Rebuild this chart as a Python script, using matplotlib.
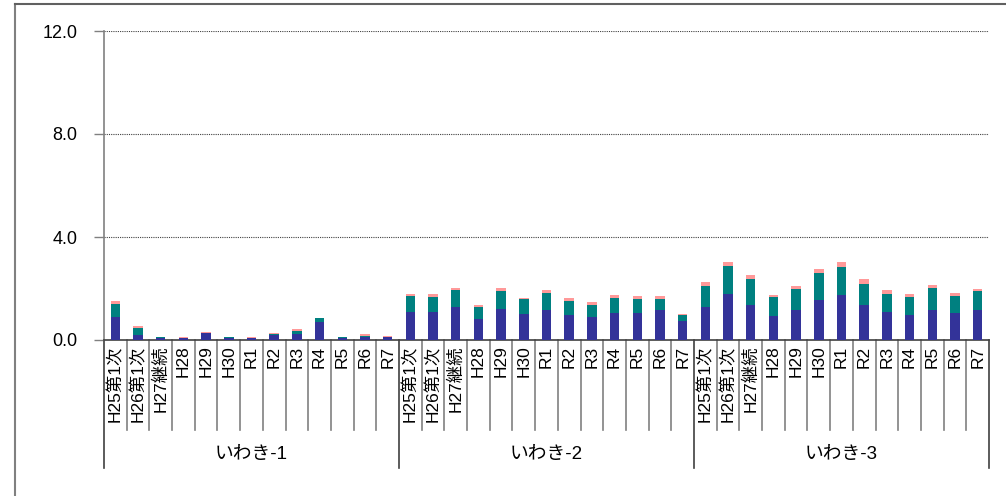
import matplotlib
matplotlib.use("Agg")
import matplotlib.pyplot as plt
from matplotlib.lines import Line2D
import numpy as np

plt.rcParams['font.family'] = ['Liberation Sans', 'Noto Sans CJK JP', 'DejaVu Sans']

# data
groups = ['いわき-1', 'いわき-2', 'いわき-3']
periods = ['H25第1次', 'H26第1次', 'H27継続', 'H28', 'H29', 'H30',
           'R1', 'R2', 'R3', 'R4', 'R5', 'R6', 'R7']

blue = [0.89, 0.19, 0.09, 0.08, 0.26, 0.09, 0.08, 0.21, 0.25, 0.71, 0.09, 0.12, 0.10,
        1.09, 1.09, 1.28, 0.80, 1.20, 1.01, 1.15, 0.97, 0.88, 1.04, 1.04, 1.15, 0.74,
        1.28, 1.80, 1.37, 0.95, 1.18, 1.57, 1.76, 1.36, 1.10, 0.99, 1.18, 1.05, 1.18]
teal = [0.50, 0.28, 0.01, 0.01, 0.01, 0.02, 0.01, 0.04, 0.10, 0.14, 0.01, 0.03, 0.02,
        0.61, 0.58, 0.66, 0.47, 0.72, 0.60, 0.69, 0.56, 0.48, 0.59, 0.57, 0.46, 0.25,
        0.83, 1.09, 1.00, 0.72, 0.80, 1.03, 1.09, 0.83, 0.70, 0.68, 0.83, 0.67, 0.72]
pink = [0.12, 0.06, 0.01, 0.01, 0.03, 0.02, 0.01, 0.01, 0.06, 0.02, 0.02, 0.07, 0.02,
        0.10, 0.10, 0.09, 0.09, 0.10, 0.02, 0.12, 0.09, 0.10, 0.12, 0.08, 0.08, 0.01,
        0.13, 0.13, 0.14, 0.08, 0.10, 0.15, 0.19, 0.16, 0.13, 0.10, 0.11, 0.09, 0.07]

yticks = [0, 4, 8, 12]

n_per = len(periods)
n = n_per * len(groups)
x = np.arange(n)
b = np.array(blue)
t = np.array(teal)
p = np.array(pink)

fig = plt.figure(figsize=(10.06, 4.96), dpi=100)
ax = fig.add_axes([104/1006, 1-340/496, (989-104)/1006, (340-31)/496])

w = 0.42
ax.bar(x, b, w, color='#333399', linewidth=0, zorder=3)
ax.bar(x, t, w, bottom=b, color='#008080', linewidth=0, zorder=3)
ax.bar(x, p, w, bottom=b+t, color='#ff9999', linewidth=0, zorder=3)

ax.set_xlim(-0.5, n-0.5)
ax.set_ylim(0, 12)
ax.set_yticks(yticks)
ax.set_yticklabels(['%.1f' % v for v in yticks], fontsize=13)
ax.tick_params(axis='y', length=7, width=1, color='#808080', pad=12)
for v in yticks[1:]:
    ax.axhline(v, color='#404040', linestyle=(0, (1, 1)), linewidth=0.8, zorder=1)

ax.set_xticks(x)
ax.set_xticklabels(periods * len(groups), rotation=90, fontsize=12.5, va='top')
ax.tick_params(axis='x', length=0, pad=4)

for s in ['top', 'right']:
    ax.spines[s].set_visible(False)
ax.spines['left'].set_color('#808080')
ax.spines['bottom'].set_color('#404040')
ax.spines['left'].set_linewidth(1.2)
ax.spines['bottom'].set_linewidth(1.2)

# category separators below the axis
tr = ax.get_xaxis_transform()
cat_bottom = -(430-340)/309
grp_bottom = -(468-340)/309
for i in range(n+1):
    xb = i - 0.5
    yb = grp_bottom if i % n_per == 0 else cat_bottom
    col = '#404040' if i % n_per == 0 else '#808080'
    ax.plot([xb, xb], [0, yb], transform=tr, color=col, linewidth=1.2, clip_on=False)

for g, name in enumerate(groups):
    xc = g*n_per + (n_per-1)/2
    ax.text(xc, -(454-340)/309, name, transform=tr, ha='center', va='center', fontsize=13.5)

# outer chart frame
fig.add_artist(Line2D([15/1006, 15/1006], [0, 1-4/496], color='#808080', linewidth=1.5))
fig.add_artist(Line2D([15/1006, 1], [1-4/496, 1-4/496], color='#606060', linewidth=1.5))

fig.savefig('out.png', dpi=100)
